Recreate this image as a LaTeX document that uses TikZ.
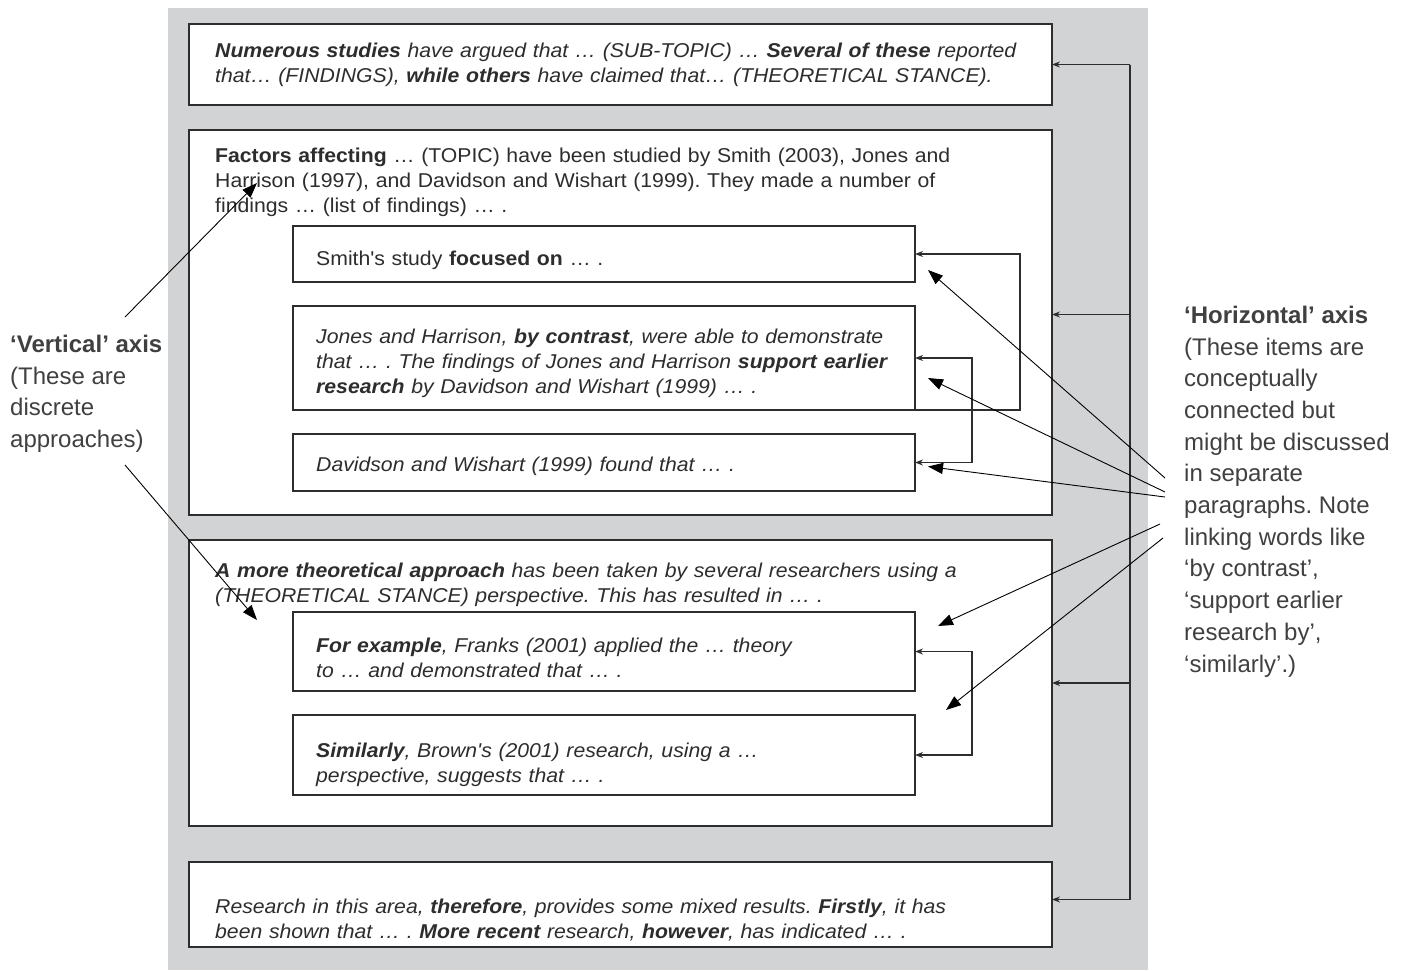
\documentclass[tikz,border=0pt]{standalone}
\usepackage{fontspec}
\setmainfont{Liberation Sans}
\newfontfamily\boxfont[FakeStretch=1.06]{Liberation Sans}
\usepackage{tikz}
\usetikzlibrary{arrows.meta, positioning, calc}

\definecolor{panelgray}{RGB}{209,211,213}
\definecolor{inkgray}{RGB}{45,45,45}
\definecolor{labelgray}{RGB}{64,64,64}

\frenchspacing

\begin{document}
\begin{tikzpicture}[x=1pt, y=-1pt,
    frame/.style={draw=inkgray, line width=1.5pt, fill=white, inner sep=0pt, outer sep=0pt, anchor=north west},
    outerbox/.style={frame, minimum width=863pt},
    innerbox/.style={frame, minimum width=622pt},
    boxtext/.style={anchor=north west, inner sep=0pt, text width=811pt, align=left, text=inkgray,
        font=\boxfont\fontsize{20}{25}\selectfont},
    axislabel/.style={anchor=north west, inner sep=0pt, align=left, text=labelgray,
        font=\fontsize{24}{31.7}\selectfont},
    link/.style={draw=inkgray, line width=1.2pt, -{Stealth[length=8pt, width=6pt]}},
    twolink/.style={link, {Stealth[length=8pt, width=6pt]}-{Stealth[length=8pt, width=6pt]}},
    pointer/.style={line width=0.9pt, -{Triangle[length=15pt, width=11pt]}}]

    \useasboundingbox (0,0) rectangle (1407,970);

    % Grey panel
    \fill[panelgray] (168,8) rectangle (1148,970);

    % Outer boxes
    \node[outerbox, minimum height=81pt] (topbox) at (189,24) {};
    \node[outerbox, minimum height=385pt] (factors) at (189,130) {};
    \node[outerbox, minimum height=286pt] (theory) at (189,540) {};
    \node[outerbox, minimum height=85pt] (research) at (189,862) {};

    % Inner boxes
    \node[innerbox, minimum height=56pt] (smith) at (293,226) {};
    \node[innerbox, minimum height=104pt, below=24pt of smith] (jones) {};
    \node[innerbox, minimum height=57pt, below=24pt of jones] (davidson) {};
    \node[innerbox, minimum height=79pt] (franks) at (293,612) {};
    \node[innerbox, minimum height=80pt, below=24pt of franks] (brown) {};

    % Texts of the outer boxes
    \node[boxtext] (toptext) at ($(topbox.north west)+(26,15.5)$)
        {\strut\itshape\textbf{Numerous studies} have argued that … (SUB-TOPIC) … \textbf{Several of these} reported\\
         that… (FINDINGS), \textbf{while others} have claimed that… (THEORETICAL STANCE).};
    \node[boxtext] (factorstext) at ($(factors.north west)+(26,14.5)$)
        {\strut\textbf{Factors affecting} … (TOPIC) have been studied by Smith (2003), Jones and\\
         Harrison (1997), and Davidson and Wishart (1999). They made a number of\\
         findings … (list of findings) … .};
    \node[boxtext] (theorytext) at ($(theory.north west)+(26,19.5)$)
        {\strut\itshape\textbf{A more theoretical approach} has been taken by several researchers using a\\
         (THEORETICAL STANCE) perspective. This has resulted in … .};
    \node[boxtext] (researchtext) at ($(research.north west)+(26,33.5)$)
        {\strut\itshape Research in this area, \textbf{therefore}, provides some mixed results. \textbf{Firstly}, it has\\
         been shown that … . \textbf{More recent} research, \textbf{however}, has indicated … .};

    % Texts of the inner boxes
    \node[boxtext] (smithtext) at ($(smith.north west)+(23,21.5)$)
        {\strut Smith's study \textbf{focused on} … .};
    \node[boxtext] (jonestext) at ($(jones.north west)+(23,19.5)$)
        {\strut\itshape Jones and Harrison, \textbf{by contrast}, were able to demonstrate\\
         that … . The findings of Jones and Harrison \textbf{support earlier}\\
         \textbf{research} by Davidson and Wishart (1999) … .};
    \node[boxtext] (davidsontext) at ($(davidson.north west)+(23,19.5)$)
        {\strut\itshape Davidson and Wishart (1999) found that … .};
    \node[boxtext] (frankstext) at ($(franks.north west)+(23,22.5)$)
        {\strut\itshape\textbf{For example}, Franks (2001) applied the … theory\\
         to … and demonstrated that … .};
    \node[boxtext] (browntext) at ($(brown.north west)+(23,24.5)$)
        {\strut\itshape\textbf{Similarly}, Brown's (2001) research, using a …\\
         perspective, suggests that … .};

    % Right rail
    \coordinate (rail) at (1130,0);
    \coordinate (factorsin) at ($(factors.east)+(0,-8)$);
    \coordinate (researchin) at ($(research.east)+(0,-5)$);
    \draw[draw=inkgray, line width=1.2pt] (rail |- topbox.east) -- (rail |- researchin);
    \draw[link] (rail |- topbox.east) -- (topbox.east);
    \draw[link] (rail |- factorsin) -- (factorsin);
    \draw[link] (rail |- theory.east) -- (theory.east);
    \draw[link] (rail |- researchin) -- (researchin);

    % Links between inner boxes
    \draw[link] (jones.south east) -- ++(105,0) |- (smith.east);
    \draw[twolink] (jones.east) -- ++(57,0) |- (davidson.east);
    \draw[twolink] (franks.east) -- ++(57,0) |- (brown.east);

    % Axis labels
    \node[axislabel] (vlabel) at (10,334.7)
        {\textbf{‘Vertical’ axis}\\ (These are\\ discrete\\ approaches)};
    \node[axislabel] (hlabel) at (1184,305.7)
        {\textbf{‘Horizontal’ axis}\\ (These items are\\ conceptually\\ connected but\\ might be discussed\\
         in separate\\ paragraphs. Note\\ linking words like\\ ‘by contrast’,\\ ‘support earlier\\
         research by’,\\ ‘similarly’.)};

    % Pointers of the horizontal axis
    \coordinate (h1) at (1165,478);
    \coordinate (h2) at (1165,492);
    \coordinate (h3) at (1165,497);
    \coordinate (h4) at (1160,524);
    \coordinate (h5) at (1163,538);
    \draw[pointer] (h1) -- ($(smith.south east)+(13,-12)$);
    \draw[pointer] (h2) -- ($(jones.east)+(13,20)$);
    \draw[pointer] (h3) -- ($(davidson.east)+(13,4)$);
    \draw[pointer] (h4) -- ($(franks.north east)+(23,14)$);
    \draw[pointer] (h5) -- ($(brown.north east)+(31,-5)$);

    % Pointers of the vertical axis
    \coordinate (v1) at (125,317);
    \coordinate (v2) at (125,465);
    \draw[pointer] (v1) -- (257,183);
    \draw[pointer] (v2) -- (257,620);
\end{tikzpicture}
\end{document}
